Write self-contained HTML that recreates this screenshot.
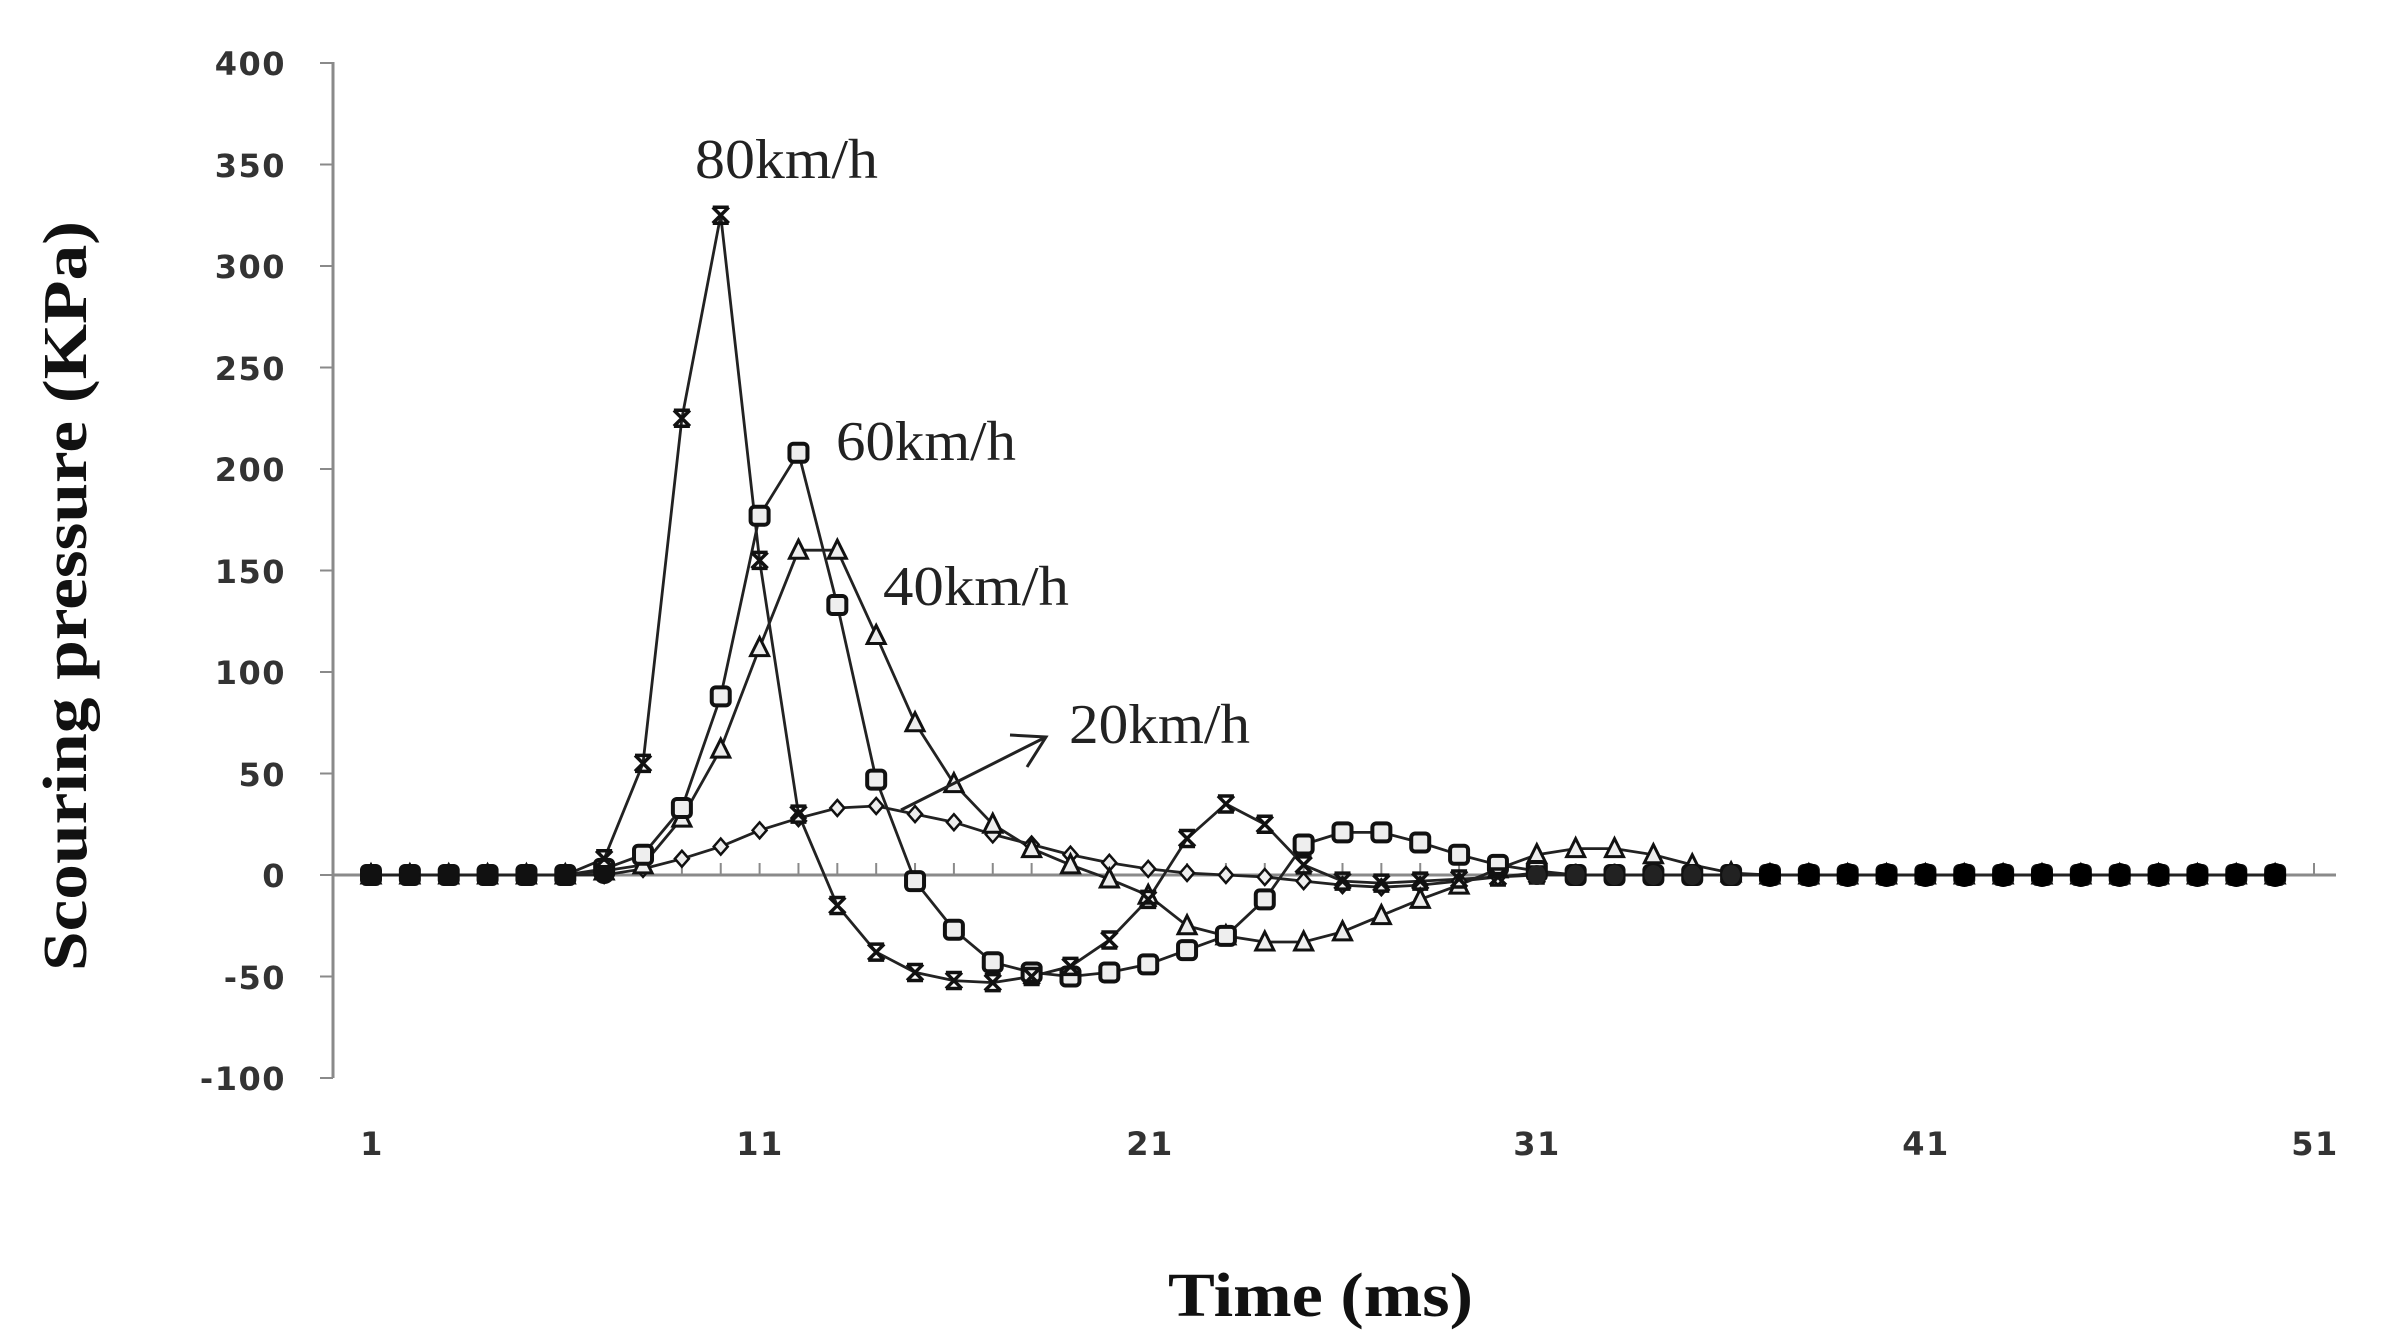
<!DOCTYPE html>
<html><head><meta charset="utf-8"><style>
html,body{margin:0;padding:0;background:#fff;}
svg{display:block;}
.tk{font-family:"DejaVu Sans","Liberation Sans",sans-serif;font-weight:bold;font-size:32px;fill:#333;letter-spacing:1.5px;}
.ti{font-family:"Liberation Serif",serif;font-weight:bold;font-size:62px;fill:#111;}
.lb{font-family:"Liberation Serif",serif;font-size:56px;fill:#222;}
</style></head><body>
<svg id="s" width="2383" height="1344" viewBox="0 0 2383 1344" xmlns="http://www.w3.org/2000/svg">
<g stroke="#8a8a8a" stroke-width="3" fill="none">
<line x1="333" y1="62" x2="333" y2="1078"/>
<line x1="333" y1="875" x2="2336" y2="875"/>
</g>
<g id="ticks" stroke="#8a8a8a" stroke-width="2"></g>
<g class="tk" text-anchor="end">
<text x="286" y="75">400</text><text x="286" y="177">350</text><text x="286" y="278">300</text>
<text x="286" y="380">250</text><text x="286" y="481">200</text><text x="286" y="583">150</text>
<text x="286" y="684">100</text><text x="286" y="786">50</text><text x="286" y="887">0</text>
<text x="286" y="989">-50</text><text x="286" y="1090">-100</text>
</g>
<g class="tk" text-anchor="middle">
<text x="372" y="1155">1</text><text x="760" y="1155">11</text><text x="1150" y="1155">21</text>
<text x="1537" y="1155">31</text><text x="1926" y="1155">41</text><text x="2315" y="1155">51</text>
</g>
<text class="ti" x="1168" y="1316" textLength="305" lengthAdjust="spacingAndGlyphs">Time (ms)</text>
<text class="ti" transform="translate(86,596) rotate(-90)" x="-375" y="0" textLength="750" lengthAdjust="spacingAndGlyphs">Scouring pressure (KPa)</text>
<g id="data"></g>
<text class="lb" x="695" y="178" textLength="183" lengthAdjust="spacingAndGlyphs">80km/h</text>
<text class="lb" x="836" y="460" textLength="180" lengthAdjust="spacingAndGlyphs">60km/h</text>
<text class="lb" x="883" y="605" textLength="186" lengthAdjust="spacingAndGlyphs">40km/h</text>
<text class="lb" x="1069" y="743" textLength="181" lengthAdjust="spacingAndGlyphs">20km/h</text>
<g stroke="#222" stroke-width="3" fill="none">
<line x1="901" y1="810" x2="1046" y2="737"/>
<polyline points="1010,735 1046,737 1027,767"/>
</g>
</svg>
<script>
function X(i){return 371+(i-1)*38.86;}
function Y(v){return 875-v*2.03;}
var t=document.getElementById('ticks'),h='';
for(var i=1;i<=51;i++){h+='<line x1="'+X(i)+'" y1="863" x2="'+X(i)+'" y2="875"/>';}
for(var v=-100;v<=400;v+=50){h+='<line x1="320" y1="'+Y(v)+'" x2="333" y2="'+Y(v)+'"/>';}
t.innerHTML=h;
function fill(m){var a=[];for(var i=1;i<=50;i++){a.push(m[i]!==undefined?m[i]:0);}return a;}
var s80=fill({7:8,8:55,9:225,10:325,11:155,12:30,13:-15,14:-38,15:-48,16:-52,17:-53,18:-50,19:-45,20:-32,21:-12,22:18,23:35,24:25,25:5,26:-3,27:-4,28:-3,29:-2,30:-1});
var s60=fill({7:3,8:10,9:33,10:88,11:177,12:208,13:133,14:47,15:-3,16:-27,17:-43,18:-48,19:-50,20:-48,21:-44,22:-37,23:-30,24:-12,25:15,26:21,27:21,28:16,29:10,30:5,31:2});
var s40=fill({7:2,8:5,9:28,10:62,11:112,12:160,13:160,14:118,15:75,16:45,17:25,18:13,19:5,20:-2,21:-10,22:-25,23:-30,24:-33,25:-33,26:-28,27:-20,28:-12,29:-5,30:3,31:10,32:13,33:13,34:10,35:5,36:1});
var s20=fill({8:3,9:8,10:14,11:22,12:28,13:33,14:34,15:30,16:26,17:20,18:15,19:10,20:6,21:3,22:1,23:0,24:-1,25:-3,26:-5,27:-6,28:-5,29:-3,30:-1,31:1});
var g=document.getElementById('data'),out='';
function line(a){var p=[];for(var i=0;i<a.length;i++)p.push(X(i+1).toFixed(1)+','+Y(a[i]).toFixed(1));
 out+='<polyline points="'+p.join(' ')+'" fill="none" stroke="#222" stroke-width="2.8"/>';}
function mk(a,type){for(var i=0;i<a.length;i++){var x=X(i+1),y=Y(a[i]);
 if(type=='x'){out+='<path d="M'+(x-8)+','+(y-8)+'L'+(x+8)+','+(y+8)+'M'+(x+8)+','+(y-8)+'L'+(x-8)+','+(y+8)+'M'+(x-8)+','+(y-8)+'H'+(x+8)+'M'+(x-8)+','+(y+8)+'H'+(x+8)+'" stroke="#111" stroke-width="3.5" fill="none"/>';}
 else if(type=='s'){out+='<rect x="'+(x-9)+'" y="'+(y-9)+'" width="18" height="18" rx="4" fill="#eee" stroke="#111" stroke-width="4"/>';}
 else if(type=='t'){out+='<polygon points="'+x+','+(y-10)+' '+(x+9)+','+(y+8)+' '+(x-9)+','+(y+8)+'" fill="#eee" stroke="#111" stroke-width="3"/>';}
 else {out+='<polygon points="'+x+','+(y-8)+' '+(x+7)+','+y+' '+x+','+(y+8)+' '+(x-7)+','+y+'" fill="#eee" stroke="#111" stroke-width="2.5"/>';}
}}
line(s20);line(s40);line(s60);line(s80);
mk(s20,'d');mk(s40,'t');mk(s60,'s');mk(s80,'x');
for(var i=31;i<=36;i++){out+='<ellipse cx="'+X(i)+'" cy="875" rx="9" ry="10" fill="#222"/>';}
for(var i=37;i<=50;i++){out+='<ellipse cx="'+X(i)+'" cy="875" rx="11" ry="12" fill="#000"/>';}
for(var i=1;i<=7;i++){out+='<ellipse cx="'+X(i)+'" cy="875" rx="10" ry="9" fill="#111"/>';}
g.innerHTML=out;
</script>
</body></html>
